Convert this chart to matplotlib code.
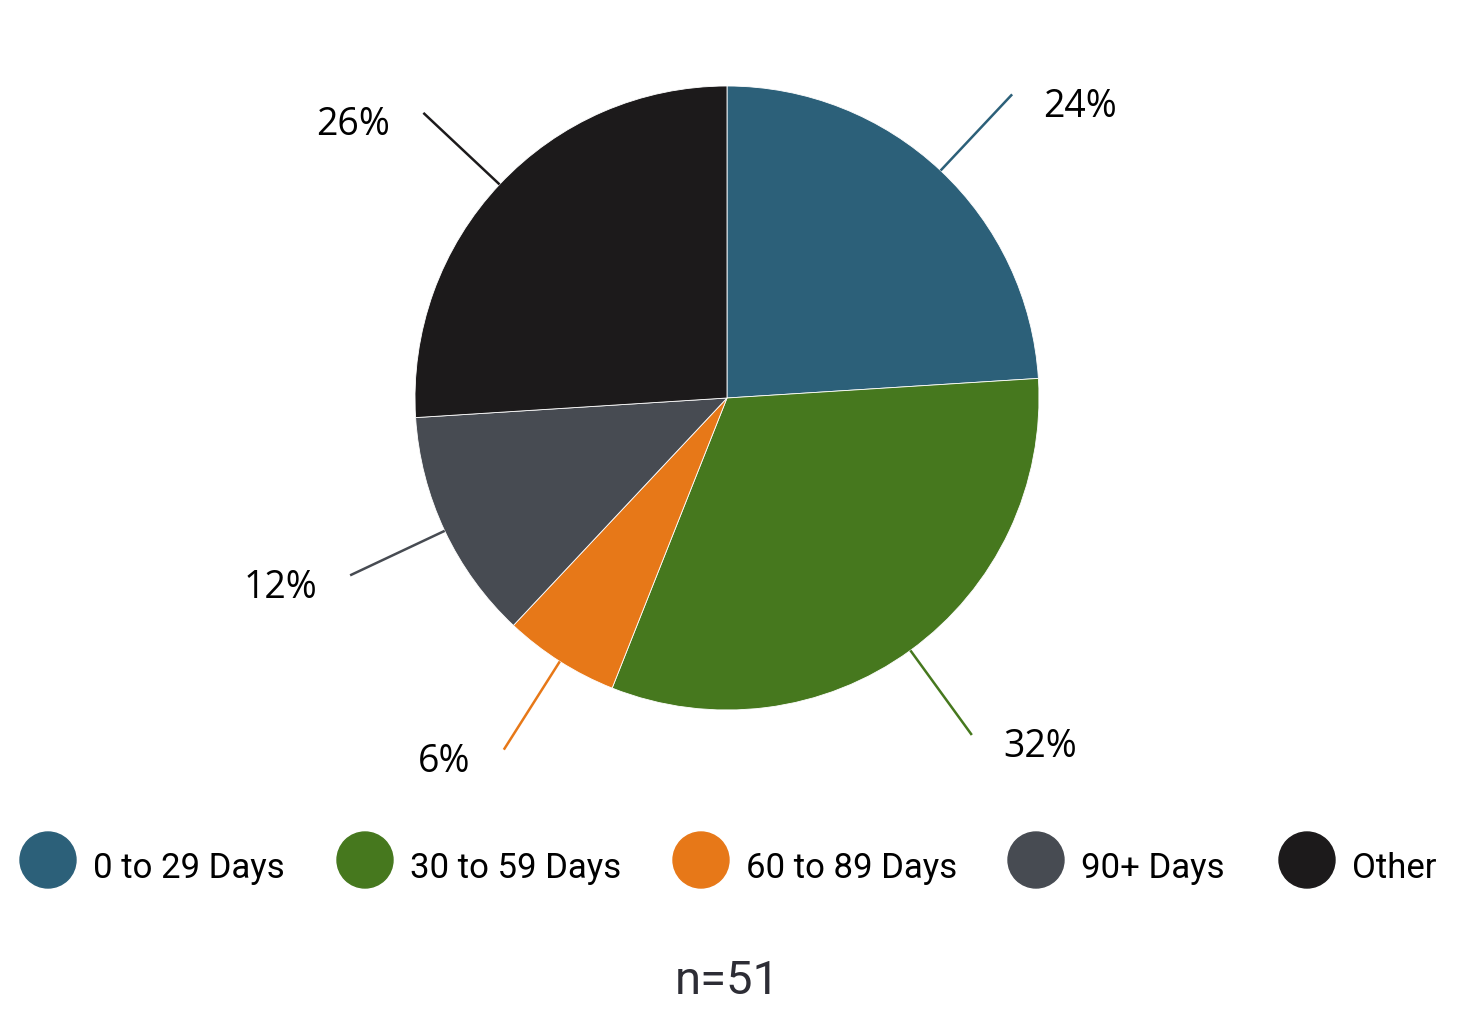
import numpy as np
import matplotlib.pyplot as plt

labels = ['0 to 29 Days', '30 to 59 Days', '60 to 89 Days', '90+ Days', 'Other']
shares = [24, 32, 6, 12, 26]
pct_text = ['24%', '32%', '6%', '12%', '26%']
colors = ['#2c6079', '#46781e', '#e77818', '#474b52', '#1c1a1b']
note = 'n=51'

W, H = 1470, 1026
fig = plt.figure(figsize=(W / 100, H / 100), dpi=100)
ax = fig.add_axes([0, 0, 1, 1])

cx, cy, r = 727, H - 398, 312
ax.pie(shares, colors=colors, startangle=90, counterclock=False,
       center=(cx, cy), radius=r, frame=True,
       wedgeprops=dict(edgecolor='white', linewidth=0.6))
ax.set_xlim(0, W)
ax.set_ylim(0, H)
ax.set_aspect('equal')
ax.axis('off')

# leader lines + percent labels
start = 0
for share, txt, col in zip(shares, pct_text, colors):
    mid = (start + share / 2) / 100 * 2 * np.pi
    start += share
    dx, dy = np.sin(mid), np.cos(mid)
    x0, y0 = cx + r * dx, cy + r * dy
    x1, y1 = cx + r * 1.335 * dx, cy + r * 1.335 * dy
    ax.plot([x0, x1], [y0, y1], color=col, lw=1.8, solid_capstyle='butt')
    if dx > 0:
        ax.text(x1 + 31, y1 - 8, txt, ha='left', va='center_baseline',
                fontsize=27, family='Open Sans', color='black')
    else:
        ax.text(x1 - 33, y1 - 8, txt, ha='right', va='center_baseline',
                fontsize=27, family='Open Sans', color='black')

# legend
leg_x = [48, 365, 701, 1036, 1307]
leg_y = H - 860
for lx, lab, col in zip(leg_x, labels, colors):
    ax.add_patch(plt.Circle((lx, leg_y), 28, color=col))
    ax.text(lx + 45, leg_y - 5, lab, ha='left', va='center_baseline',
            fontsize=25, family='Roboto', color='black')

ax.text(727, H - 977, note, ha='center', va='center_baseline',
        fontsize=34, family='Roboto', color='#2d2d35')

fig.savefig('out.png', dpi=100)
